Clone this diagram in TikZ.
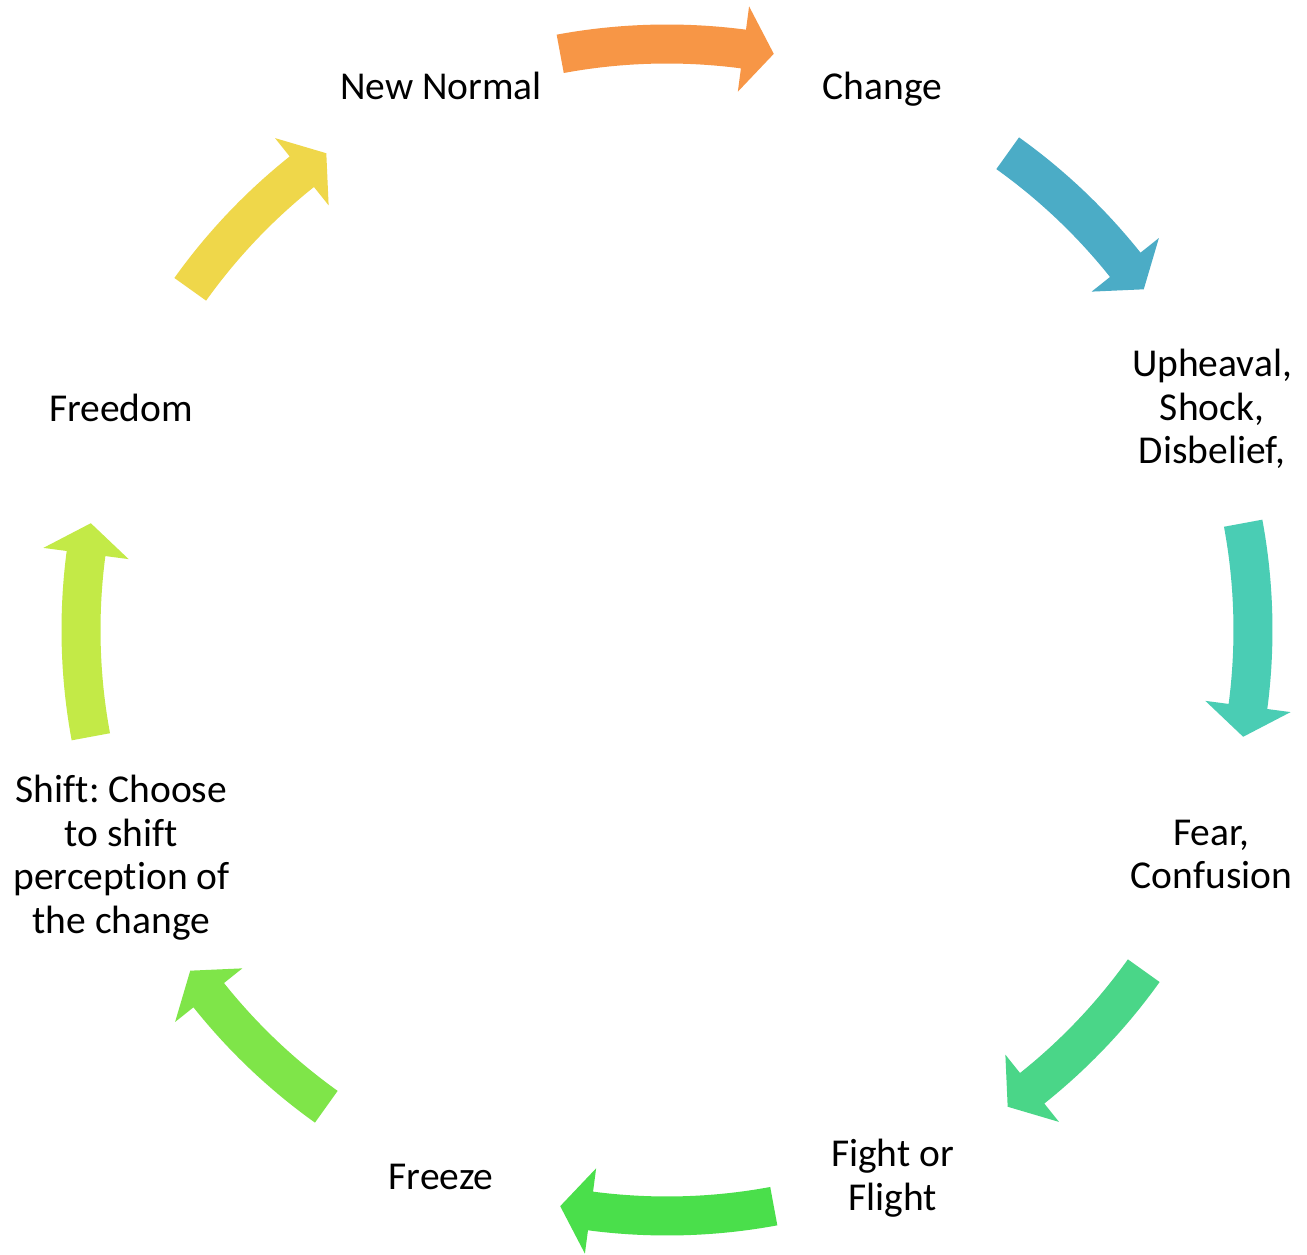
\documentclass[tikz,border=0pt]{standalone}
\usepackage{fontspec}
\setmainfont[Ligatures={NoCommon,NoContextual,NoRequired}]{Carlito}
\frenchspacing
\definecolor{cOrange}{HTML}{F79646}
\definecolor{cBlue}{HTML}{4BACC6}
\definecolor{cTeal}{HTML}{4ACDB4}
\definecolor{cGreenA}{HTML}{4AD688}
\definecolor{cGreenB}{HTML}{4ADF4B}
\definecolor{cGreenC}{HTML}{7FE549}
\definecolor{cGreenD}{HTML}{C3EA47}
\definecolor{cYellow}{HTML}{EFD74A}
% #1 colour, #2 centre angle, #3 half span (degrees)
\newcommand\cycarrow[3]{%
  \fill[#1] ({#2+#3}:605.5pt) arc[start angle={#2+#3}, end angle={#2-#3+3}, radius=605.5pt]
    -- ({#2-#3+3}:629pt) -- ({#2-#3}:586pt) -- ({#2-#3+3}:543pt) -- ({#2-#3+3}:566.5pt)
    arc[start angle={#2-#3+3}, end angle={#2+#3}, radius=566.5pt] -- cycle;}
\begin{document}
\begin{tikzpicture}[x=1pt,y=1pt,
  lbl/.style={font=\fontsize{39.5}{43.5}\selectfont, align=center, inner sep=0pt,
    execute at begin node=\strut, execute at end node=\strut}]
\useasboundingbox[fill=white] (-667,-625) rectangle (640,630);
\coordinate (O) at (0,0);
\cycarrow{cOrange}{90}{10.5}
\cycarrow{cBlue}{45}{9.45}
\cycarrow{cTeal}{0}{10.5}
\cycarrow{cGreenA}{-45}{9.45}
\cycarrow{cGreenB}{-90}{10.5}
\cycarrow{cGreenC}{-135}{9.45}
\cycarrow{cGreenD}{180}{10.5}
\cycarrow{cYellow}{135}{9.45}
\node[lbl] (change) at (215.5,539) {Change};
\node[lbl] (upheaval) at (545,217) {Upheaval,\\Shock,\\Disbelief,};
\node[lbl] (fear) at (544.5,-231) {Fear,\\Confusion};
\node[lbl] (fight) at (225.5,-551.5) {Fight or\\Flight};
\node[lbl] (freeze) at (-226,-551) {Freeze};
\node[lbl] (shift) at (-545.5,-231) {Shift: Choose\\to shift\\perception of\\the change};
\node[lbl] (freedom) at (-546,217) {Freedom};
\node[lbl] (newnormal) at (-226,539) {New Normal};
\end{tikzpicture}
\end{document}
